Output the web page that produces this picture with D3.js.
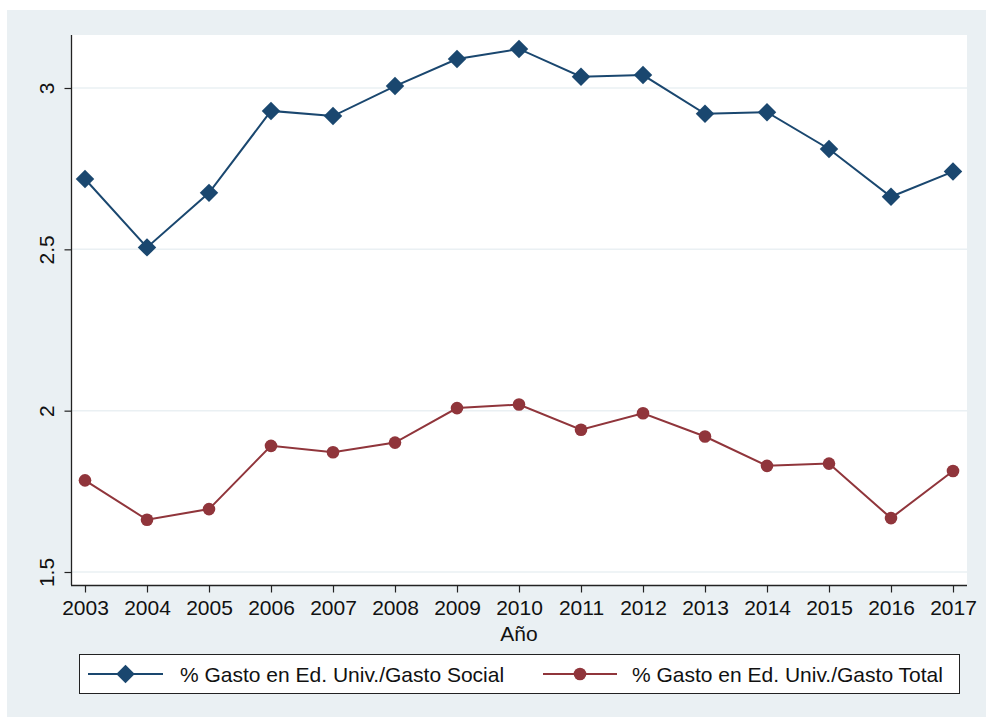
<!DOCTYPE html>
<html><head><meta charset="utf-8">
<script src="https://cdn.jsdelivr.net/npm/d3@7"></script>
<style>html,body{margin:0;padding:0;background:#fff;}svg{display:block;font-family:"Liberation Sans",Arial,sans-serif;}</style>
</head><body>
<script>
const years = [2003,2004,2005,2006,2007,2008,2009,2010,2011,2012,2013,2014,2015,2016,2017];
const gastoSocial = [2.718,2.506,2.675,2.929,2.913,3.006,3.090,3.121,3.035,3.040,2.920,2.925,2.811,2.663,2.741];
const gastoTotal = [1.784,1.662,1.695,1.891,1.871,1.901,2.008,2.019,1.941,1.992,1.920,1.829,1.836,1.667,1.813];
const yTicks = [1.5,2,2.5,3];
const seriesNames = ["% Gasto en Ed. Univ./Gasto Social","% Gasto en Ed. Univ./Gasto Total"];
const xTitle = "Año";

const W=986,H=717;
const FS=21;
const svg=d3.select("body").append("svg").attr("width",W).attr("height",H);
svg.append("rect").attr("x",7).attr("y",10).attr("width",W-7).attr("height",H-10).attr("fill","#EAF0F3");
const plot={l:72,r:967,t:35,b:585};
svg.append("rect").attr("x",plot.l).attr("y",plot.t).attr("width",plot.r-plot.l).attr("height",plot.b-plot.t).attr("fill","#fff");

const x=d3.scaleLinear().domain([2003,2017]).range([85,953]);
const y=d3.scaleLinear().domain([1.5,3]).range([572,88]);

// gridlines
svg.append("g").selectAll("line").data(yTicks).join("line")
 .attr("x1",plot.l).attr("x2",plot.r).attr("y1",d=>y(d)).attr("y2",d=>y(d))
 .attr("stroke","#EAF0F3").attr("stroke-width",1.5);

// y axis
const ya=svg.append("g").attr("transform",`translate(${plot.l-0.5},0)`)
 .call(d3.axisLeft(y).tickValues(yTicks).tickSize(7).tickSizeOuter(0).tickFormat(d3.format("")));
ya.select(".domain").remove();
ya.selectAll(".tick line").attr("stroke","#222").attr("stroke-width",1.2);
ya.selectAll(".tick text").attr("font-size",FS).attr("fill","#111").attr("font-family","Liberation Sans, Arial, sans-serif")
 .attr("transform","rotate(-90)").attr("x",0).attr("y",-18).attr("dy",0).attr("text-anchor","middle");
svg.append("line").attr("x1",plot.l-0.5).attr("x2",plot.l-0.5).attr("y1",plot.t).attr("y2",plot.b).attr("stroke","#222").attr("stroke-width",1.3);

// x axis
const xa=svg.append("g").attr("transform",`translate(0,${plot.b+0.5})`)
 .call(d3.axisBottom(x).tickValues(years).tickSize(7).tickSizeOuter(0).tickFormat(d3.format("d")));
xa.select(".domain").remove();
xa.selectAll(".tick line").attr("stroke","#222").attr("stroke-width",1.2);
xa.selectAll(".tick text").attr("font-size",FS).attr("fill","#111").attr("font-family","Liberation Sans, Arial, sans-serif").attr("y",15).attr("dy","0.71em");
svg.append("line").attr("x1",plot.l-1).attr("x2",plot.r).attr("y1",plot.b+0.5).attr("y2",plot.b+0.5).attr("stroke","#222").attr("stroke-width",1.3);

svg.append("text").attr("x",519).attr("y",641).attr("text-anchor","middle").attr("font-size",FS).attr("fill","#111").text(xTitle);

const blue="#1A476F", red="#90353B";
const line=d3.line().x((d,i)=>x(years[i])).y(d=>y(d));
svg.append("path").datum(gastoTotal).attr("d",line).attr("fill","none").attr("stroke",red).attr("stroke-width",2);
svg.append("g").selectAll("circle").data(gastoTotal).join("circle")
 .attr("cx",(d,i)=>x(years[i])).attr("cy",d=>y(d)).attr("r",6.3).attr("fill",red);
svg.append("path").datum(gastoSocial).attr("d",line).attr("fill","none").attr("stroke",blue).attr("stroke-width",2);
const dia=d3.symbol().type(d3.symbolSquare).size(170);
svg.append("g").selectAll("path").data(gastoSocial).join("path")
 .attr("d",dia).attr("transform",(d,i)=>`translate(${x(years[i])},${y(d)}) rotate(45)`).attr("fill",blue);

// legend
svg.append("rect").attr("x",79.5).attr("y",654.5).attr("width",880).attr("height",39).attr("fill","#fff").attr("stroke","#222").attr("stroke-width",1);
const leg=[{x1:88,x2:163,tx:180,c:blue,t:"d"},{x1:543,x2:617,tx:632,c:red,t:"c"}];
leg.forEach((l,i)=>{
  const cy=674;
  svg.append("line").attr("x1",l.x1).attr("x2",l.x2).attr("y1",cy).attr("y2",cy).attr("stroke",l.c).attr("stroke-width",2);
  const cx=(l.x1+l.x2)/2;
  if(l.t==="d") svg.append("path").attr("d",dia).attr("transform",`translate(${cx},${cy}) rotate(45)`).attr("fill",l.c);
  else svg.append("circle").attr("cx",cx).attr("cy",cy).attr("r",6.3).attr("fill",l.c);
  svg.append("text").attr("x",l.tx).attr("y",682).attr("font-size",FS).attr("fill","#111").text(seriesNames[i]);
});
</script>
</body></html>
